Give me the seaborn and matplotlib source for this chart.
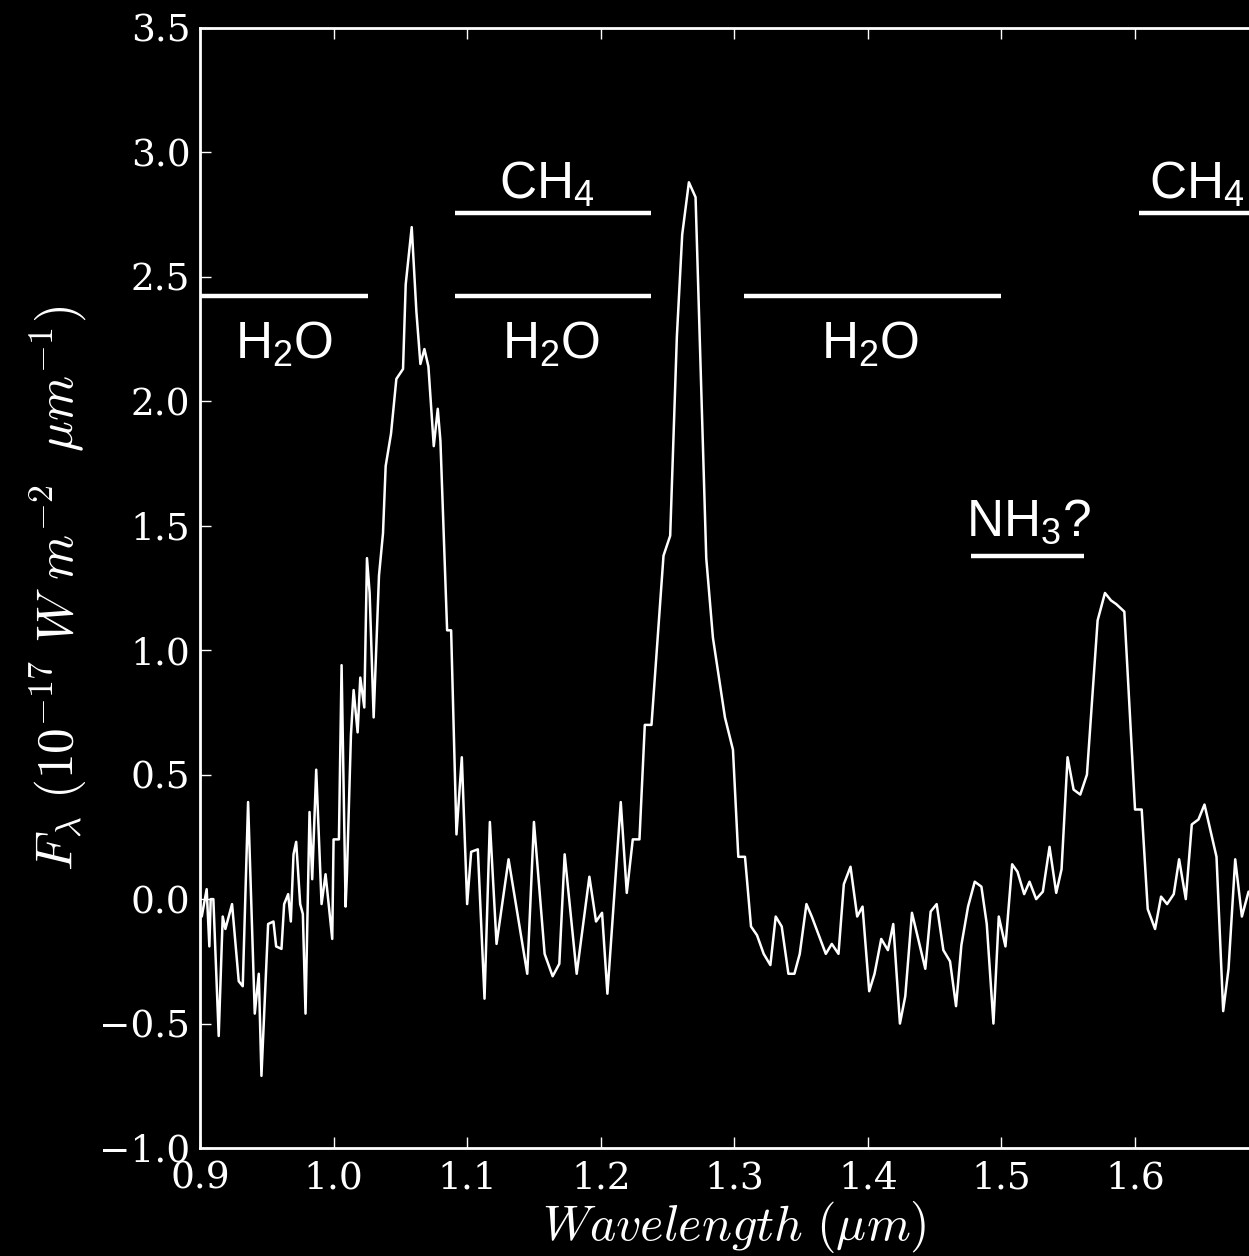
import numpy as np
import pandas as pd
import matplotlib
matplotlib.use("Agg")
import matplotlib.pyplot as plt
import seaborn as sns

# spectrum
wavelength = [0.9013, 0.905, 0.907, 0.908, 0.910, 0.914, 0.917, 0.919, 0.924, 0.929,
              0.932, 0.936, 0.941, 0.944, 0.946, 0.951, 0.955, 0.957, 0.961, 0.963,
              0.966, 0.968, 0.970, 0.972, 0.975, 0.977, 0.979, 0.982, 0.984, 0.987,
              0.991, 0.994, 0.999,
              1.000, 1.004, 1.006, 1.009, 1.010, 1.013, 1.015, 1.018, 1.020, 1.023,
              1.025, 1.027, 1.030, 1.034, 1.037, 1.039, 1.043, 1.047, 1.052, 1.054,
              1.0585, 1.062, 1.065, 1.068, 1.071, 1.075, 1.078, 1.080, 1.085, 1.088,
              1.092, 1.096, 1.100,
              1.103, 1.108, 1.113, 1.117, 1.122, 1.131, 1.145, 1.150, 1.158, 1.164,
              1.169, 1.173, 1.182, 1.1915, 1.1965, 1.201,
              1.205, 1.215, 1.2195, 1.224, 1.229, 1.233, 1.238, 1.247, 1.252, 1.257,
              1.261, 1.266, 1.271, 1.279, 1.284, 1.293, 1.299, 1.303,
              1.308, 1.3125, 1.317, 1.322, 1.327, 1.331, 1.3355, 1.3405, 1.345, 1.349,
              1.354, 1.358, 1.3685, 1.373, 1.378, 1.382, 1.387, 1.392, 1.396, 1.401,
              1.405, 1.410, 1.415, 1.419, 1.424, 1.428, 1.433, 1.443, 1.447, 1.4515,
              1.4565, 1.4615, 1.466, 1.470, 1.475, 1.480, 1.485, 1.489, 1.494, 1.498,
              1.503,
              1.508, 1.512, 1.517, 1.521, 1.526, 1.531, 1.536, 1.541, 1.545, 1.5495,
              1.554, 1.559, 1.564, 1.572, 1.5775, 1.582, 1.586, 1.592, 1.600, 1.605,
              1.6095, 1.615, 1.6195, 1.624, 1.629, 1.633, 1.638, 1.6425, 1.6475, 1.652,
              1.661, 1.666, 1.670, 1.675, 1.680, 1.685]
flux = [-0.07, 0.04, -0.19, 0.0, 0.0, -0.55, -0.07, -0.12, -0.02, -0.33,
        -0.35, 0.39, -0.46, -0.30, -0.71, -0.10, -0.09, -0.19, -0.20, -0.02,
        0.02, -0.09, 0.18, 0.23, -0.02, -0.06, -0.46, 0.35, 0.08, 0.52,
        -0.02, 0.10, -0.16,
        0.24, 0.24, 0.94, -0.03, 0.10, 0.66, 0.84, 0.67, 0.89, 0.77,
        1.37, 1.23, 0.73, 1.30, 1.47, 1.74, 1.87, 2.09, 2.13, 2.47,
        2.70, 2.36, 2.15, 2.21, 2.14, 1.82, 1.97, 1.84, 1.08, 1.08,
        0.26, 0.57, -0.02,
        0.19, 0.20, -0.40, 0.31, -0.18, 0.16, -0.30, 0.31, -0.22, -0.31,
        -0.26, 0.18, -0.30, 0.09, -0.09, -0.055,
        -0.38, 0.39, 0.025, 0.24, 0.24, 0.70, 0.70, 1.38, 1.46, 2.26,
        2.67, 2.88, 2.82, 1.37, 1.05, 0.73, 0.60, 0.17,
        0.17, -0.11, -0.145, -0.22, -0.265, -0.07, -0.11, -0.30, -0.30, -0.22,
        -0.02, -0.07, -0.22, -0.18, -0.22, 0.06, 0.13, -0.07, -0.03, -0.37,
        -0.30, -0.16, -0.205, -0.10, -0.50, -0.39, -0.055, -0.28, -0.05, -0.02,
        -0.205, -0.25, -0.43, -0.185, -0.03, 0.07, 0.05, -0.10, -0.50, -0.07,
        -0.19,
        0.14, 0.11, 0.02, 0.07, 0.00, 0.03, 0.21, 0.025, 0.12, 0.57,
        0.44, 0.42, 0.50, 1.12, 1.23, 1.20, 1.185, 1.155, 0.36, 0.36,
        -0.04, -0.12, 0.01, -0.02, 0.02, 0.16, 0.00, 0.30, 0.32, 0.38,
        0.17, -0.45, -0.28, 0.16, -0.07, 0.03]

# absorption band markers
band_labels = [r"H$_2$O", r"CH$_4$", r"H$_2$O", r"H$_2$O", r"NH$_3$?", r"CH$_4$"]
band_start = [0.900, 1.091, 1.091, 1.307, 1.477, 1.603]
band_end = [1.026, 1.238, 1.238, 1.500, 1.562, 1.700]
band_level = [2.425, 2.757, 2.425, 2.425, 1.378, 2.757]
label_x = [0.963, 1.160, 1.163, 1.402, 1.520, 1.646]
label_y = [2.173, 2.815, 2.173, 2.173, 1.462, 2.815]

xticks = [0.9, 1.0, 1.1, 1.2, 1.3, 1.4, 1.5, 1.6]
yticks = [-1.0, -0.5, 0.0, 0.5, 1.0, 1.5, 2.0, 2.5, 3.0, 3.5]

sns.set_theme(style="ticks")
plt.rcParams["font.family"] = ["DejaVu Serif"]
plt.rcParams["mathtext.fontset"] = "custom"
plt.rcParams["mathtext.rm"] = "Liberation Sans"
plt.rcParams["mathtext.it"] = "Liberation Sans:italic"
plt.rcParams["axes.unicode_minus"] = True

fig = plt.figure(figsize=(12.49, 12.56), dpi=100, facecolor="black")
# axes runs past the right edge of the figure, as in the cropped original
ax = fig.add_axes([200 / 1249, 108 / 1256, 1068.6 / 1249, 1120 / 1256])
ax.set_facecolor("black")

df = pd.DataFrame({"wl": wavelength, "flux": flux})
sns.lineplot(data=df, x="wl", y="flux", sort=False, estimator=None,
             color="white", lw=1.8, ax=ax)

ax.hlines(band_level, band_start, band_end, color="white", lw=3.2)
for lab, x, y in zip(band_labels, label_x, label_y):
    ax.text(x, y, lab, color="white", fontsize=37, ha="center", va="baseline",
            family="Liberation Sans", math_fontfamily="custom")

ax.set_xlim(0.9, 1.7)
ax.set_ylim(-1.0, 3.5)
ax.set_xticks(xticks)
ax.set_yticks(yticks)

for s in ax.spines.values():
    s.set_color("white")
    s.set_linewidth(2)
ax.tick_params(axis="both", which="major", direction="in", length=8, width=1,
               colors="white", labelsize=27, top=True, right=True)
ax.tick_params(axis="x", pad=9)
ax.tick_params(axis="y", pad=7)

ax.set_xlabel(r"$Wavelength\ (\mu m)$", color="white", fontsize=36,
              math_fontfamily="cm", labelpad=2)
ax.set_ylabel(r"$F_\lambda\ (10^{-17}\ W\ m^{-2}\ \ \mu m^{-1})$", color="white",
              fontsize=37, math_fontfamily="cm", labelpad=8)

fig.savefig("out.png", dpi=100, facecolor="black")
